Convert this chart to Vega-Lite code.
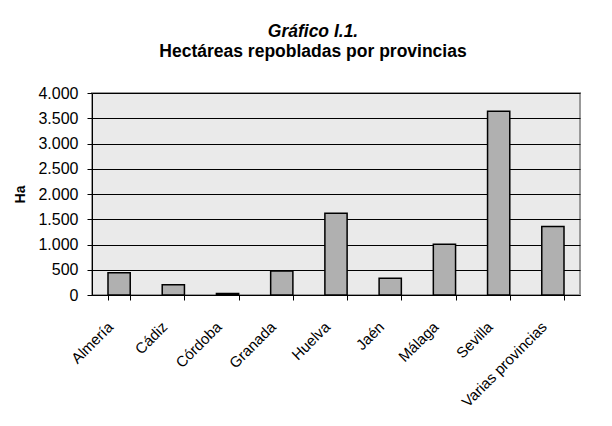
{
  "$schema": "https://vega.github.io/schema/vega-lite/v6.json",
  "width": 488,
  "height": 202,
  "padding": {"left": 13, "top": 23, "right": 20, "bottom": 10},
  "background": "white",
  "title": {
    "text": "Gráfico I.1.",
    "subtitle": "Hectáreas repobladas por provincias",
    "anchor": "middle",
    "frame": "group",
    "dx": -23,
    "font": "Liberation Sans",
    "fontSize": 17.5,
    "fontWeight": "bold",
    "fontStyle": "italic",
    "color": "black",
    "subtitleFont": "Liberation Sans",
    "subtitleFontSize": 17.5,
    "subtitleFontWeight": "bold",
    "subtitleFontStyle": "normal",
    "subtitleColor": "black",
    "subtitlePadding": 2,
    "offset": 25
  },
  "data": {
    "values": [
      {"provincia": "Almería", "ha": 440},
      {"provincia": "Cádiz", "ha": 205},
      {"provincia": "Córdoba", "ha": 30},
      {"provincia": "Granada", "ha": 475},
      {"provincia": "Huelva", "ha": 1620},
      {"provincia": "Jaén", "ha": 330},
      {"provincia": "Málaga", "ha": 1005},
      {"provincia": "Sevilla", "ha": 3640},
      {"provincia": "Varias provincias", "ha": 1355}
    ]
  },
  "mark": {"type": "bar", "fill": "#b0b0b0", "stroke": "black", "strokeWidth": 1.5},
  "encoding": {
    "x": {
      "field": "provincia",
      "type": "nominal",
      "sort": null,
      "scale": {"paddingInner": 0.59, "paddingOuter": 0.295},
      "axis": {
        "title": null,
        "labelAngle": -45,
        "labelAlign": "right",
        "labelBaseline": "middle",
        "labelFont": "Liberation Sans",
        "labelFontSize": 15,
        "labelColor": "black",
        "labelPadding": 24,
        "labelOffset": -9,
        "tickBand": "extent",
        "tickSize": 5,
        "tickColor": "black",
        "domainColor": "black",
        "grid": false
      }
    },
    "y": {
      "field": "ha",
      "type": "quantitative",
      "scale": {"domain": [0, 4000], "nice": false},
      "axis": {
        "title": "Ha",
        "titleFont": "Liberation Sans",
        "titleFontSize": 14,
        "titleFontWeight": "bold",
        "titleColor": "black",
        "titlePadding": 10,
        "values": [0, 500, 1000, 1500, 2000, 2500, 3000, 3500, 4000],
        "format": ",d",
        "labelFont": "Liberation Sans",
        "labelFontSize": 16,
        "labelColor": "black",
        "labelPadding": 9,
        "tickSize": 5,
        "tickColor": "black",
        "domainColor": "black",
        "grid": true,
        "gridColor": "black",
        "gridWidth": 1
      }
    }
  },
  "config": {
    "locale": {"number": {"decimal": ",", "thousands": ".", "grouping": [3], "currency": ["", " €"]}},
    "view": {"fill": "#eaeaea", "stroke": "#999999", "strokeWidth": 2},
    "axis": {"domainWidth": 1, "tickWidth": 1}
  }
}
